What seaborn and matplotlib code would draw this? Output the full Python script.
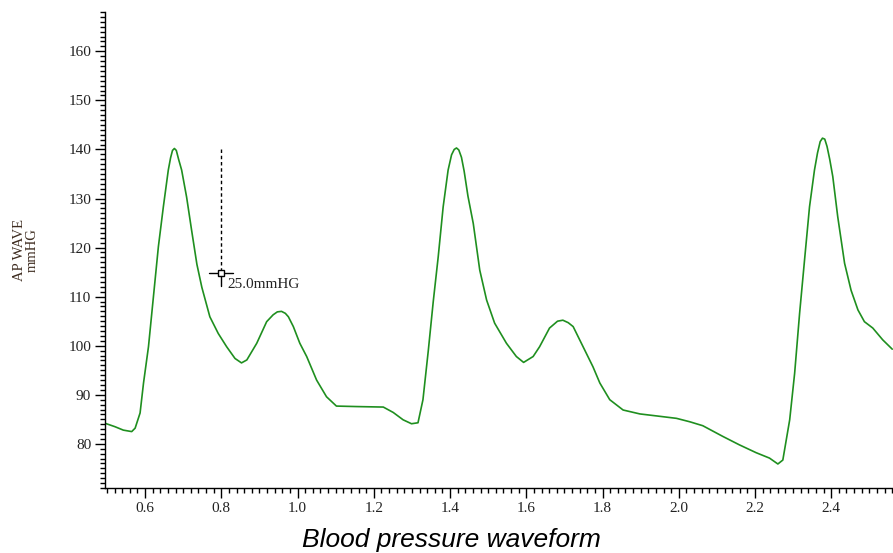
import matplotlib
matplotlib.use('Agg')
import matplotlib.pyplot as plt
from matplotlib.ticker import MultipleLocator
import seaborn as sns
import pandas as pd

# waveform samples (time in s, pressure in mmHG)
time_s = [0.495, 0.521, 0.543, 0.565, 0.574, 0.587, 0.596, 0.609, 0.622, 0.635,
          0.648, 0.661, 0.667, 0.672, 0.677, 0.682, 0.688, 0.696, 0.709, 0.722,
          0.736, 0.749, 0.770, 0.792, 0.814, 0.836, 0.853, 0.867, 0.893, 0.919,
          0.936, 0.947, 0.958, 0.968, 0.976, 0.989, 1.006, 1.024, 1.050, 1.076,
          1.102, 1.155, 1.225, 1.251, 1.277, 1.299, 1.316, 1.329, 1.343, 1.356,
          1.369, 1.382, 1.395, 1.404, 1.411, 1.417, 1.423, 1.430, 1.437, 1.447,
          1.461, 1.478, 1.496, 1.517, 1.548, 1.574, 1.593, 1.618, 1.635, 1.661,
          1.682, 1.696, 1.710, 1.723, 1.749, 1.775, 1.793, 1.819, 1.854, 1.898,
          1.941, 1.994, 2.029, 2.063, 2.116, 2.159, 2.203, 2.238, 2.260, 2.273,
          2.291, 2.304, 2.317, 2.330, 2.343, 2.356, 2.364, 2.371, 2.377, 2.383,
          2.389, 2.396, 2.404, 2.417, 2.435, 2.452, 2.470, 2.487, 2.509, 2.535,
          2.560]
pressure = [84.2, 83.5, 82.8, 82.5, 83.2, 86.3, 92.4, 99.8, 110.0, 120.2,
            128.3, 135.8, 138.3, 139.8, 140.2, 139.8, 138.0, 135.8, 130.3, 123.6,
            116.6, 111.9, 105.9, 102.5, 99.8, 97.4, 96.5, 97.1, 100.5, 104.9,
            106.3, 106.9, 107.0, 106.6, 105.9, 103.9, 100.5, 97.8, 93.0, 89.6,
            87.7, 87.6, 87.5, 86.4, 84.9, 84.1, 84.3, 89.0, 99.0, 109.0,
            118.1, 128.3, 135.8, 138.9, 140.0, 140.3, 139.9, 138.4, 135.6, 130.5,
            124.9, 115.4, 109.3, 104.6, 100.5, 97.8, 96.6, 97.8, 99.8, 103.6,
            105.0, 105.2, 104.7, 103.9, 99.8, 95.7, 92.4, 89.0, 86.9, 86.1,
            85.7, 85.2, 84.5, 83.7, 81.5, 79.8, 78.2, 77.1, 75.9, 76.7,
            84.9, 94.4, 106.6, 117.5, 128.3, 135.8, 139.3, 141.6, 142.3, 142.1,
            140.6, 138.0, 134.5, 126.3, 116.8, 111.3, 107.3, 104.9, 103.6, 101.2,
            99.3]

y_ticks = [80, 90, 100, 110, 120, 130, 140, 150, 160]
x_ticks = [0.6, 0.8, 1.0, 1.2, 1.4, 1.6, 1.8, 2.0, 2.2, 2.4]

# cursor measurement
cursor_t = 0.8
cursor_top = 140.0
cursor_val = 114.8
cursor_label = '25.0mmHG'

df = pd.DataFrame({'t': time_s, 'p': pressure})

sns.set_style('ticks')
plt.rcParams['font.family'] = ['Liberation Serif', 'DejaVu Serif']

fig = plt.figure(figsize=(8.93, 5.53), dpi=100)
ax = fig.add_axes([0.1176, 0.1175, 0.8824, 0.8607])

sns.lineplot(data=df, x='t', y='p', ax=ax, color='#1f8f1f', linewidth=1.2,
             sort=False, estimator=None)

# cursor
ax.plot([cursor_t, cursor_t], [cursor_top, cursor_val], color='black',
        linestyle=(0, (2.5, 2)), linewidth=1)
ax.plot([cursor_t - 0.032, cursor_t + 0.032], [cursor_val, cursor_val],
        color='black', linewidth=1)
ax.plot([cursor_t, cursor_t], [cursor_val, cursor_val - 2.6],
        color='black', linewidth=1)
ax.plot([cursor_t], [cursor_val], marker='s', markersize=5,
        markerfacecolor='white', markeredgecolor='black', markeredgewidth=1)
ax.text(cursor_t + 0.015, cursor_val - 2.4, cursor_label, fontsize=11,
        color='#222222', ha='left', va='center')

ax.set_xlim(0.495, 2.562)
ax.set_ylim(71.0, 168.0)
ax.set_xticks(x_ticks)
ax.set_xticklabels([f'{v:.1f}' for v in x_ticks])
ax.set_yticks(y_ticks)
ax.set_yticklabels([str(v) for v in y_ticks])
ax.xaxis.set_minor_locator(MultipleLocator(0.02))
ax.yaxis.set_minor_locator(MultipleLocator(1))
ax.tick_params(which='major', length=7, width=1, colors='black',
               labelsize=11, labelcolor='#222222', pad=3)
ax.tick_params(which='minor', length=3.5, width=1, colors='black')

sns.despine(ax=ax, top=True, right=True)
for s in ['left', 'bottom']:
    ax.spines[s].set_linewidth(1)
    ax.spines[s].set_color('black')

ax.set_xlabel('')
ax.set_ylabel('AP WAVE\nmmHG', fontsize=10.5, color='#3d2b1f',
              linespacing=1.0, labelpad=21)

fig.text(0.5056, 0.0235, 'Blood pressure waveform', fontsize=19,
         fontstyle='italic', family=['Liberation Sans', 'DejaVu Sans'],
         ha='center', va='center', color='black')

plt.savefig('out.png', dpi=100)
plt.close('all')
